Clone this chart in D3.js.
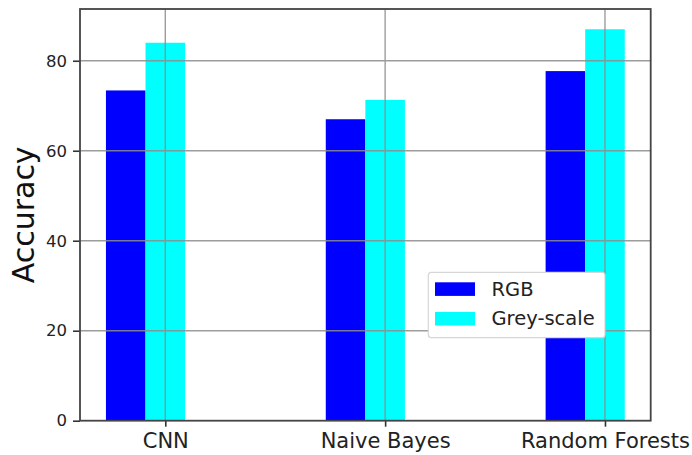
<!DOCTYPE html>
<html>
<head>
<meta charset="utf-8">
<script src="https://cdn.jsdelivr.net/npm/d3@7"></script>
<style>
  html, body { margin: 0; padding: 0; background: #fff; }
  svg { display: block; font-family: "DejaVu Sans", sans-serif; }
</style>
</head>
<body>
<svg id="chart" width="692" height="455"></svg>
<script>
const categories = ["CNN", "Naive Bayes", "Random Forests"];
const seriesNames = ["RGB", "Grey-scale"];
const rgbValues = [73.4, 67.0, 77.7];
const greyValues = [84.0, 71.3, 87.0];
const yTicks = [0, 20, 40, 60, 80];
const seriesColors = ["#0000ff", "#00ffff"];

const svg = d3.select("#chart");
const pLeft = 80, pRight = 650.7, pTop = 9, pBottom = 420.7;
const barW = 0.18;

const x = d3.scaleLinear().domain([-0.388, 2.208]).range([pLeft, pRight]);
const y = d3.scaleLinear().domain([0, 91.5]).range([pBottom, pTop]);

const series = [rgbValues, greyValues];
const offsets = [-0.27, -0.09];

// bars
series.forEach((vals, si) => {
  svg.append("g").selectAll("rect").data(vals).join("rect")
    .attr("x", (d, i) => x(i + offsets[si]))
    .attr("width", (d, i) => x(i + offsets[si] + barW) - x(i + offsets[si]))
    .attr("y", d => y(d))
    .attr("height", d => y(0) - y(d))
    .attr("fill", seriesColors[si]);
});

// grid
const grid = svg.append("g").attr("stroke", "#8c8c8c").attr("stroke-width", 1.4).attr("opacity", 0.85);
grid.selectAll("line.h").data(yTicks.slice(1)).join("line")
  .attr("x1", pLeft).attr("x2", pRight)
  .attr("y1", d => y(d)).attr("y2", d => y(d));
grid.selectAll("line.v").data(categories).join("line")
  .attr("x1", (d, i) => x(i)).attr("x2", (d, i) => x(i))
  .attr("y1", pTop).attr("y2", pBottom);

// axes
const yAxis = svg.append("g").attr("transform", `translate(${pLeft},0)`)
  .call(d3.axisLeft(y).tickValues(yTicks).tickSize(7).tickPadding(6).tickFormat(d3.format("d")));
yAxis.select(".domain").remove();
yAxis.selectAll("line").attr("stroke", "#333").attr("stroke-width", 1.6);
yAxis.selectAll("text").attr("font-size", "16.5px").attr("fill", "#222").attr("font-family", "DejaVu Sans");

const xAxis = svg.append("g").attr("transform", `translate(0,${pBottom})`)
  .call(d3.axisBottom(x).tickValues([0, 1, 2]).tickSize(6).tickPadding(6).tickFormat(i => categories[i]));
xAxis.select(".domain").remove();
xAxis.selectAll("line").attr("stroke", "#333").attr("stroke-width", 1.6);
xAxis.selectAll("text").attr("font-size", "21px").attr("fill", "#222").attr("font-family", "DejaVu Sans");

// spines
svg.append("rect").attr("x", pLeft).attr("y", pTop)
  .attr("width", pRight - pLeft).attr("height", pBottom - pTop)
  .attr("fill", "none").attr("stroke", "#444").attr("stroke-width", 1.8);

// y label
svg.append("text")
  .attr("transform", `translate(34,${(pTop + pBottom) / 2}) rotate(-90)`)
  .attr("text-anchor", "middle")
  .attr("font-size", "30px").attr("fill", "#111")
  .text("Accuracy");

// legend
const lg = svg.append("g");
lg.append("rect").attr("x", 428.3).attr("y", 272.3).attr("width", 176.7).attr("height", 65.4)
  .attr("rx", 3).attr("fill", "#fff")
  .attr("stroke", "#d6d6d6").attr("stroke-width", 1.2);
seriesNames.forEach((name, i) => {
  const yy = 282.3 + i * 29.6;
  lg.append("rect").attr("x", 435).attr("y", yy).attr("width", 40).attr("height", 13.6)
    .attr("fill", seriesColors[i]);
  lg.append("text").attr("x", 491.5).attr("y", yy + 13.5)
    .attr("font-size", "19.5px").attr("fill", "#222").text(name);
});
</script>
</body>
</html>
